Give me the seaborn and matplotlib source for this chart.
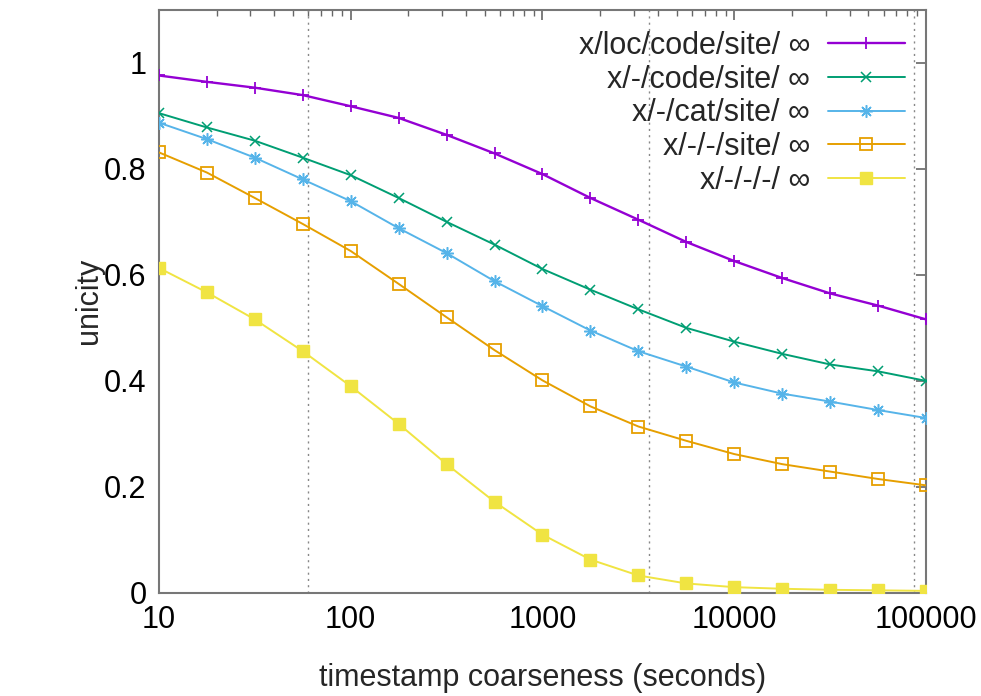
import numpy as np
import pandas as pd
import matplotlib
matplotlib.use("Agg")
import matplotlib.pyplot as plt
from matplotlib.ticker import FuncFormatter, LogLocator, NullFormatter
import seaborn as sns

# datos (4 puntos por década, 10 .. 100000 s)
coarseness = [10, 17.78, 31.62, 56.23, 100, 177.8, 316.2, 562.3, 1000,
              1778, 3162, 5623, 10000, 17783, 31623, 56234, 100000]

loc_code_site = [0.976, 0.964, 0.953, 0.939, 0.918, 0.896, 0.864, 0.829, 0.790,
                 0.745, 0.704, 0.662, 0.626, 0.594, 0.565, 0.542, 0.516]
code_site = [0.905, 0.878, 0.853, 0.821, 0.788, 0.745, 0.700, 0.657, 0.611,
             0.572, 0.535, 0.500, 0.474, 0.451, 0.431, 0.418, 0.400]
cat_site = [0.887, 0.856, 0.821, 0.780, 0.739, 0.688, 0.641, 0.588, 0.541,
            0.495, 0.456, 0.427, 0.397, 0.376, 0.361, 0.345, 0.330]
site = [0.831, 0.793, 0.745, 0.696, 0.645, 0.583, 0.520, 0.458, 0.401,
        0.352, 0.314, 0.287, 0.262, 0.243, 0.229, 0.215, 0.203]
nothing = [0.613, 0.567, 0.516, 0.456, 0.390, 0.319, 0.243, 0.172, 0.110,
           0.063, 0.033, 0.018, 0.011, 0.008, 0.006, 0.005, 0.004]

labels = ["x/loc/code/site/ ∞", "x/-/code/site/ ∞", "x/-/cat/site/ ∞",
          "x/-/-/site/ ∞", "x/-/-/-/ ∞"]
colores = ["#9400D3", "#009E73", "#56B4E9", "#E69F00", "#F0E442"]
vlines = [60, 3600, 86400]

sns.set_style("white")
plt.rcParams["font.family"] = ["Liberation Sans", "DejaVu Sans"]

fig = plt.figure(figsize=(9.81, 6.96), dpi=100)
ax = fig.add_axes([0.162, 0.148, 0.782, 0.838])

for xv in vlines:
    ax.axvline(xv, color="#888888", linestyle=(0, (1.5, 3)), linewidth=1, zorder=1)

series = [loc_code_site, code_site, cat_site, site, nothing]
estilos = [
    dict(marker="+", markersize=9, markeredgewidth=1.3, linewidth=1.7),
    dict(marker="x", markersize=7, markeredgewidth=1.1, linewidth=1.4),
    dict(marker=(8, 2, 0), markersize=9, markeredgewidth=1.1, linewidth=1.4),
    dict(marker="s", markersize=8, markeredgewidth=1.3, linewidth=1.4,
         markerfacecolor="none"),
    dict(marker="s", markersize=8, markeredgewidth=1.0, linewidth=1.4),
]
for ys, lab, col, st in zip(series, labels, colores, estilos):
    df = pd.DataFrame({"x": coarseness, "y": ys})
    sns.lineplot(data=df, x="x", y="y", ax=ax, color=col, label=lab,
                 markeredgecolor=col, zorder=3, **st)

ax.set_xscale("log")
ax.set_xlim(10, 100000)
ax.set_ylim(0, 1.1)
ax.set_yticks([0, 0.2, 0.4, 0.6, 0.8, 1.0])
ax.yaxis.set_major_formatter(FuncFormatter(lambda v, p: "%g" % v))
ax.xaxis.set_major_locator(LogLocator(base=10))
ax.xaxis.set_major_formatter(FuncFormatter(lambda v, p: "%d" % v))
ax.xaxis.set_minor_locator(LogLocator(base=10, subs=np.arange(2, 10)))
ax.xaxis.set_minor_formatter(NullFormatter())

ax.tick_params(which="both", direction="in", top=True, right=True,
               color="#666666", labelsize=22, labelcolor="black")
ax.tick_params(which="major", length=7, width=1.2, pad=9)
ax.tick_params(which="minor", length=4, width=1.0)
for s in ax.spines.values():
    s.set_color("#777777")
    s.set_linewidth(1.5)

ax.set_xlabel("timestamp coarseness (seconds)", fontsize=22, labelpad=20)
ax.set_ylabel("unicity", fontsize=22, labelpad=0)

leg = ax.legend(loc="upper right", markerfirst=False, frameon=False,
                fontsize=22, handlelength=2.5, handletextpad=0.6,
                labelspacing=0.12, borderaxespad=0.3, bbox_to_anchor=(1.0, 1.0))

fig.savefig("out.png", dpi=100)
